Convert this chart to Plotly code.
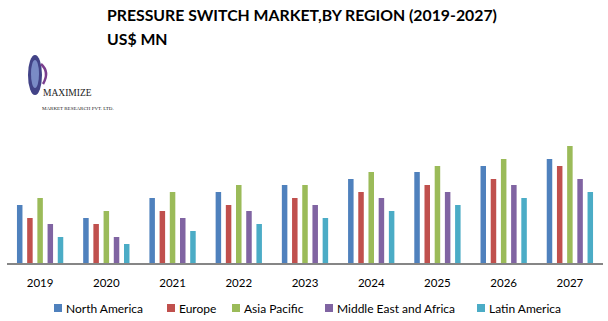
import plotly.graph_objects as go

years = ["2019", "2020", "2021", "2022", "2023", "2024", "2025", "2026", "2027"]
north_america = [58, 45, 65, 71, 78, 84, 91, 97, 104]
europe = [45, 39, 52, 58, 65, 71, 78, 84, 97]
asia_pacific = [65, 52, 71, 78, 78, 91, 97, 104, 117]
mea = [39, 26, 45, 52, 58, 65, 71, 78, 84]
latin_america = [26, 19, 32, 39, 45, 52, 58, 65, 71]

names = ["North America", "Europe", "Asia Pacific", "Middle East and Africa", "Latin America"]
values = [north_america, europe, asia_pacific, mea, latin_america]
colors = ["#4F81BD", "#C0504D", "#9BBB59", "#8064A2", "#4BACC6"]

# layout (pixel positions of legend swatches)
legend_px = [54, 167, 232, 325, 477]

W, H = 608, 321
ML, MR, MT, MB = 7, 5, 133, 58
PW, PH = W - ML - MR, H - MT - MB

def px(x):
    return (x - ML) / PW

def py(y):
    return (H - MB - y) / PH

fig = go.Figure()
for name, vals, col in zip(names, values, colors):
    fig.add_trace(go.Bar(x=years, y=vals, name=name, marker_color=col,
                         marker_line_width=0, showlegend=False))

font_main = "Lato, Calibri, Carlito, sans-serif"
font_logo = "Liberation Serif, serif"

annotations = [
    dict(text="<b>PRESSURE SWITCH MARKET,BY REGION (2019-2027)</b>", x=px(105), y=py(15),
         xanchor="left", yanchor="middle", font=dict(size=15.8, color="#000", family=font_main)),
    dict(text="<b>US$ MN</b>", x=px(105), y=py(39),
         xanchor="left", yanchor="middle", font=dict(size=15.8, color="#000", family=font_main)),
    dict(text="MAXIMIZE", x=px(41), y=py(93), xanchor="left", yanchor="middle",
         font=dict(size=9.5, color="#222", family=font_logo)),
    dict(text="MARKET RESEARCH PVT. LTD.", x=px(40), y=py(108), xanchor="left", yanchor="middle",
         font=dict(size=5, color="#222", family=font_logo)),
]

shapes = [
    dict(type="circle", xref="paper", yref="paper", x0=px(28), x1=px(42), y0=py(95), y1=py(55),
         fillcolor="#2E2F7A", line=dict(width=0), opacity=0.9),
    dict(type="circle", xref="paper", yref="paper", x0=px(31), x1=px(39), y0=py(88), y1=py(60),
         fillcolor="#8EA3DB", line=dict(width=0), opacity=0.75),
    dict(type="path", xref="paper", yref="paper",
         path=f"M {px(41)} {py(64)} Q {px(50)} {py(72)} {px(43)} {py(84)}",
         line=dict(color="#7A3E8E", width=2.5)),
]

for lx, name, col in zip(legend_px, names, colors):
    shapes.append(dict(type="rect", xref="paper", yref="paper",
                       x0=px(lx), x1=px(lx + 8), y0=py(312), y1=py(304),
                       fillcolor=col, line=dict(width=0)))
    annotations.append(dict(text=name, x=px(lx + 10), y=py(308.5), xanchor="left", yanchor="middle",
                            font=dict(size=12, color="#000", family=font_main)))

for a in annotations:
    a.update(xref="paper", yref="paper", showarrow=False)

fig.update_layout(
    width=W, height=H,
    margin=dict(l=ML, r=MR, t=MT, b=MB),
    paper_bgcolor="white", plot_bgcolor="white",
    barmode="group", bargap=0.23, bargroupgap=0.46,
    showlegend=False,
    annotations=annotations,
    shapes=shapes,
    xaxis=dict(showline=True, linecolor="#868686", linewidth=1.5, ticks="",
               tickfont=dict(size=11.5, color="#000", family=font_main),
               ticklabelstandoff=8, showgrid=False, fixedrange=True),
    yaxis=dict(range=[0, 130], visible=False, showgrid=False, fixedrange=True),
)

fig.write_html("out.html")
